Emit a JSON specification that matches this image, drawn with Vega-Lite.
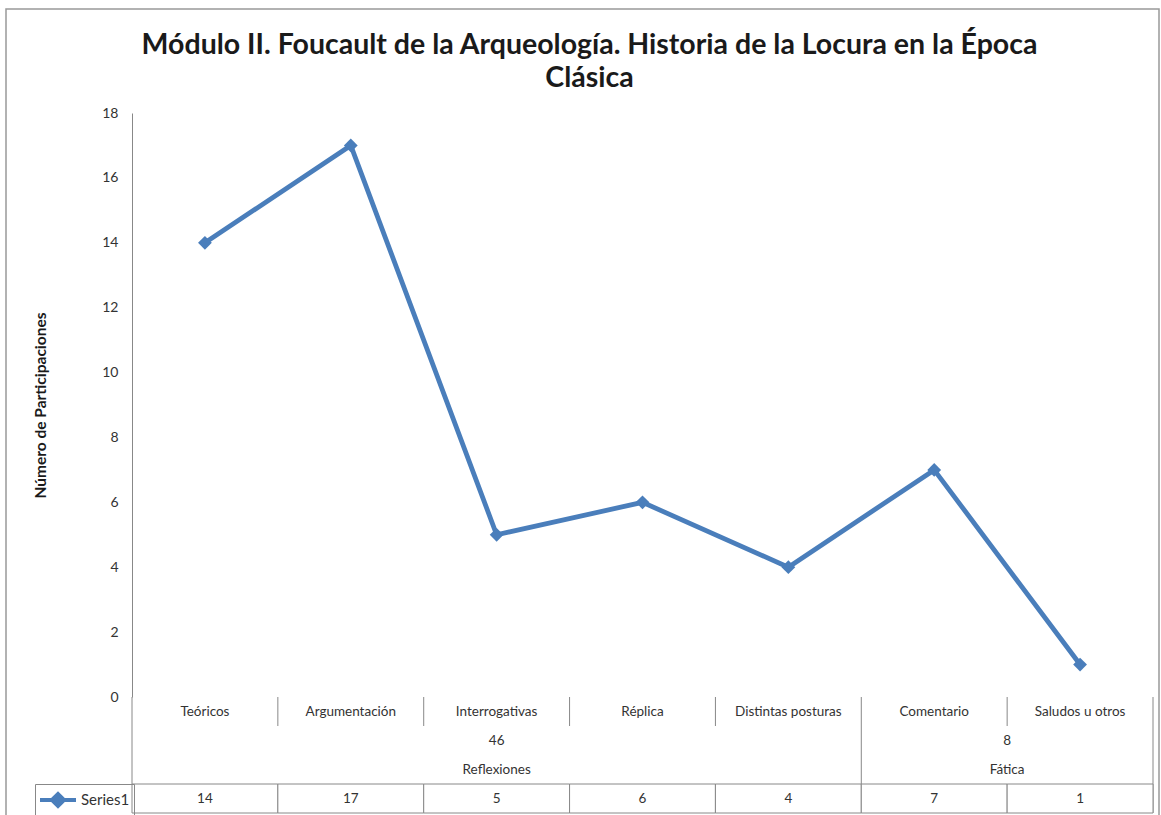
{
  "$schema": "https://vega.github.io/schema/vega-lite/v6.json",
  "width": 1021,
  "height": 584,
  "autosize": {"type": "none"},
  "padding": {"left": 132, "top": 113, "right": 8, "bottom": 118},
  "background": "white",
  "config": {"view": {"stroke": null}, "font": "Lato"},
  "title": {
    "text": ["Módulo II. Foucault de la Arqueología. Historia de la Locura en la Época", "Clásica"],
    "font": "Lato", "fontSize": 28.5, "fontWeight": "bold", "color": "#1a1a1a",
    "anchor": "middle", "frame": "group", "dx": -53, "offset": -84, "lineHeight": 33
  },
  "data": {"values": [
    {"cat": "Teóricos", "value": 14, "group": "Reflexiones", "total": 46},
    {"cat": "Argumentación", "value": 17, "group": "Reflexiones", "total": 46},
    {"cat": "Interrogativas", "value": 5, "group": "Reflexiones", "total": 46},
    {"cat": "Réplica", "value": 6, "group": "Reflexiones", "total": 46},
    {"cat": "Distintas posturas", "value": 4, "group": "Reflexiones", "total": 46},
    {"cat": "Comentario", "value": 7, "group": "Fática", "total": 8},
    {"cat": "Saludos u otros", "value": 1, "group": "Fática", "total": 8}
  ]},
  "layer": [
    {
      "transform": [{"aggregate": [{"op": "count", "as": "n"}]}],
      "mark": {"type": "rect", "fill": null, "fillOpacity": 0, "stroke": "#999", "strokeWidth": 1.5},
      "encoding": {
        "x": {"datum": 0, "type": "quantitative", "scale": {"domain": [0, 1], "range": [-126, 1027]}, "axis": null},
        "x2": {"datum": 1},
        "y": {"datum": 0, "type": "quantitative", "scale": {"domain": [0, 1], "range": [-104, 710]}, "axis": null},
        "y2": {"datum": 1}
      }
    },
    {
      "mark": {"type": "line", "strokeWidth": 4.8, "point": {"shape": "diamond", "size": 190, "filled": true}},
      "encoding": {
        "x": {"field": "cat", "type": "nominal", "bandPosition": 0.5,
              "scale": {"type": "band", "paddingInner": 0, "paddingOuter": 0,
                        "domain": ["Teóricos", "Argumentación", "Interrogativas", "Réplica", "Distintas posturas", "Comentario", "Saludos u otros"]},
              "axis": null},
        "y": {"field": "value", "type": "quantitative",
              "scale": {"domain": [0, 18], "nice": false},
              "axis": {"values": [0, 2, 4, 6, 8, 10, 12, 14, 16, 18], "title": "Número de Participaciones",
                       "titleFont": "Lato", "titleFontSize": 15.5, "titleFontWeight": "bold", "titleColor": "#1a1a1a",
                       "titleX": -92, "titleY": 292, "titleAngle": -90, "titleAlign": "center", "titleBaseline": "middle",
                       "labelFont": "Lato", "labelFontSize": 14, "labelColor": "#333", "labelPadding": 14,
                       "ticks": false, "domainColor": "#888", "gridColor": "#888", "gridOpacity": 1}},
        "color": {"datum": "Series1", "type": "nominal", "scale": {"range": ["#4a7ebb"]},
                  "legend": {"title": null, "orient": "none", "legendX": -97, "legendY": 671,
                             "symbolType": "M-1.8,0L1.8,0M-0.6,0L0,-0.6L0.6,0L0,0.6Z", "symbolSize": 400,
                             "symbolOffset": 7,
                             "symbolStrokeWidth": 4, "symbolStrokeColor": "#4a7ebb", "symbolFillColor": "#4a7ebb",
                             "labelFont": "Lato", "labelFontSize": 15, "labelColor": "#333", "labelOffset": 11,
                             "strokeColor": "#888", "padding": 4}}
      }
    },
    {
      "layer": [
        {
          "mark": {"type": "rule", "color": "#888", "strokeWidth": 1},
          "encoding": {
            "x": {"field": "cat", "type": "nominal", "bandPosition": 0, "scale": {"type": "band", "paddingInner": 0, "paddingOuter": 0,
                        "domain": ["Teóricos", "Argumentación", "Interrogativas", "Réplica", "Distintas posturas", "Comentario", "Saludos u otros"]}, "axis": null},
            "y": {"datum": 0, "type": "quantitative", "scale": {"domain": [0, 4], "range": [584, 700]}, "axis": null},
            "y2": {"datum": 1}
          }
        },
        {
          "transform": [{"filter": "datum.cat == 'Teóricos' || datum.cat == 'Comentario'"}],
          "mark": {"type": "rule", "color": "#888", "strokeWidth": 1},
          "encoding": {
            "x": {"field": "cat", "type": "nominal", "bandPosition": 0, "axis": null},
            "y": {"datum": 1, "type": "quantitative", "axis": null},
            "y2": {"datum": 3}
          }
        },
        {
          "transform": [{"filter": "datum.cat == 'Saludos u otros'"}],
          "mark": {"type": "rule", "color": "#888", "strokeWidth": 1},
          "encoding": {
            "x": {"field": "cat", "type": "nominal", "bandPosition": 1, "axis": null},
            "y": {"datum": 0, "type": "quantitative", "axis": null},
            "y2": {"datum": 4}
          }
        },
        {
          "mark": {"type": "rect", "fill": "white", "stroke": "#888", "strokeWidth": 1},
          "encoding": {
            "x": {"field": "cat", "type": "nominal", "axis": null},
            "y": {"datum": 3, "type": "quantitative", "axis": null},
            "y2": {"datum": 4}
          }
        },
        {
          "mark": {"type": "text", "fontSize": 13.5, "color": "#333", "baseline": "middle"},
          "encoding": {
            "x": {"field": "cat", "type": "nominal", "bandPosition": 0.5, "axis": null},
            "y": {"datum": 0.5, "type": "quantitative", "axis": null},
            "text": {"field": "cat"}
          }
        },
        {
          "mark": {"type": "text", "fontSize": 13.5, "color": "#333", "baseline": "middle"},
          "encoding": {
            "x": {"field": "cat", "type": "nominal", "bandPosition": 0.5, "axis": null},
            "y": {"datum": 3.5, "type": "quantitative", "axis": null},
            "text": {"field": "value"}
          }
        },
        {
          "transform": [{"filter": "datum.cat == 'Interrogativas'"}],
          "mark": {"type": "text", "fontSize": 13.5, "color": "#333", "baseline": "middle"},
          "encoding": {
            "x": {"field": "cat", "type": "nominal", "bandPosition": 0.5, "axis": null},
            "y": {"datum": 1.5, "type": "quantitative", "axis": null},
            "text": {"field": "total"}
          }
        },
        {
          "transform": [{"filter": "datum.cat == 'Interrogativas'"}],
          "mark": {"type": "text", "fontSize": 13.5, "color": "#333", "baseline": "middle"},
          "encoding": {
            "x": {"field": "cat", "type": "nominal", "bandPosition": 0.5, "axis": null},
            "y": {"datum": 2.5, "type": "quantitative", "axis": null},
            "text": {"field": "group"}
          }
        },
        {
          "transform": [{"filter": "datum.cat == 'Saludos u otros'"}],
          "mark": {"type": "text", "fontSize": 13.5, "color": "#333", "baseline": "middle"},
          "encoding": {
            "x": {"field": "cat", "type": "nominal", "bandPosition": 0, "axis": null},
            "y": {"datum": 1.5, "type": "quantitative", "axis": null},
            "text": {"field": "total"}
          }
        },
        {
          "transform": [{"filter": "datum.cat == 'Saludos u otros'"}],
          "mark": {"type": "text", "fontSize": 13.5, "color": "#333", "baseline": "middle"},
          "encoding": {
            "x": {"field": "cat", "type": "nominal", "bandPosition": 0, "axis": null},
            "y": {"datum": 2.5, "type": "quantitative", "axis": null},
            "text": {"field": "group"}
          }
        }
      ]
    }
  ],
  "resolve": {"scale": {"x": "independent", "y": "independent"}}
}
